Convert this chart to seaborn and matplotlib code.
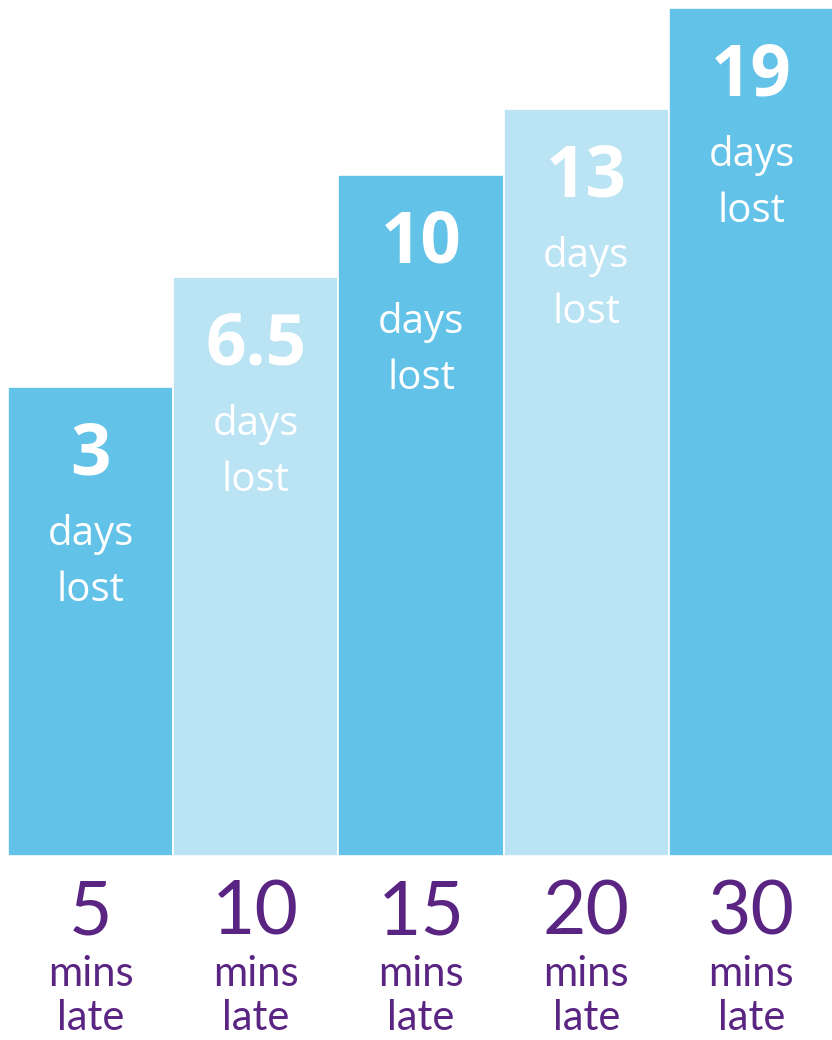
import matplotlib
matplotlib.use("Agg")
import seaborn as sns
import pandas as pd
from matplotlib import pyplot as plt

# 데이터
minutes_late = ["5", "10", "15", "20", "30"]
days_lost = ["3", "6.5", "10", "13", "19"]
bar_height = [469, 579, 681, 747, 848]  # 그림에서 읽은 막대 높이 (비례 아님)

dark_blue = "#62C2E8"
light_blue = "#BAE3F4"
purple = "#5A2582"
bar_colors = [dark_blue, light_blue, dark_blue, light_blue, dark_blue]

df = pd.DataFrame({"mins": minutes_late, "height": bar_height})

sns.set_theme(style="white")
plt.rcParams["font.family"] = ["Open Sans", "DejaVu Sans"]

fig = plt.figure(figsize=(8.32, 10.4), dpi=100)
ax = fig.add_axes([8 / 832, 184 / 1040, 826 / 832, 848 / 1040])

sns.barplot(data=df, x="mins", y="height", hue="mins", palette=bar_colors,
            width=1.0, saturation=1, edgecolor="white", linewidth=1.2,
            legend=False, ax=ax)
ax.set_xlim(-0.5, 4.5)
ax.set_ylim(0, max(bar_height))
ax.axis("off")

for i, (d, h, m) in enumerate(zip(days_lost, bar_height, minutes_late)):
    # 막대 안 글자
    ax.annotate(d, xy=(i, h), xytext=(0, -49), textcoords="offset points",
                ha="center", va="center", color="white", fontsize=51,
                fontweight="bold", annotation_clip=False)
    ax.annotate("days", xy=(i, h), xytext=(0, -106), textcoords="offset points",
                ha="center", va="center", color="white", fontsize=29,
                annotation_clip=False)
    ax.annotate("lost", xy=(i, h), xytext=(0, -147), textcoords="offset points",
                ha="center", va="center", color="white", fontsize=29,
                annotation_clip=False)
    # 아래 라벨
    ax.annotate(m, xy=(i, 0), xytext=(0, -41), textcoords="offset points",
                ha="center", va="center", color=purple, fontsize=54,
                family="Lato", annotation_clip=False)
    ax.annotate("mins", xy=(i, 0), xytext=(0, -85), textcoords="offset points",
                ha="center", va="center", color=purple, fontsize=30,
                family="Lato", annotation_clip=False)
    ax.annotate("late", xy=(i, 0), xytext=(0, -117), textcoords="offset points",
                ha="center", va="center", color=purple, fontsize=30,
                family="Lato", annotation_clip=False)

fig.savefig("out.png", dpi=100, facecolor="white")
